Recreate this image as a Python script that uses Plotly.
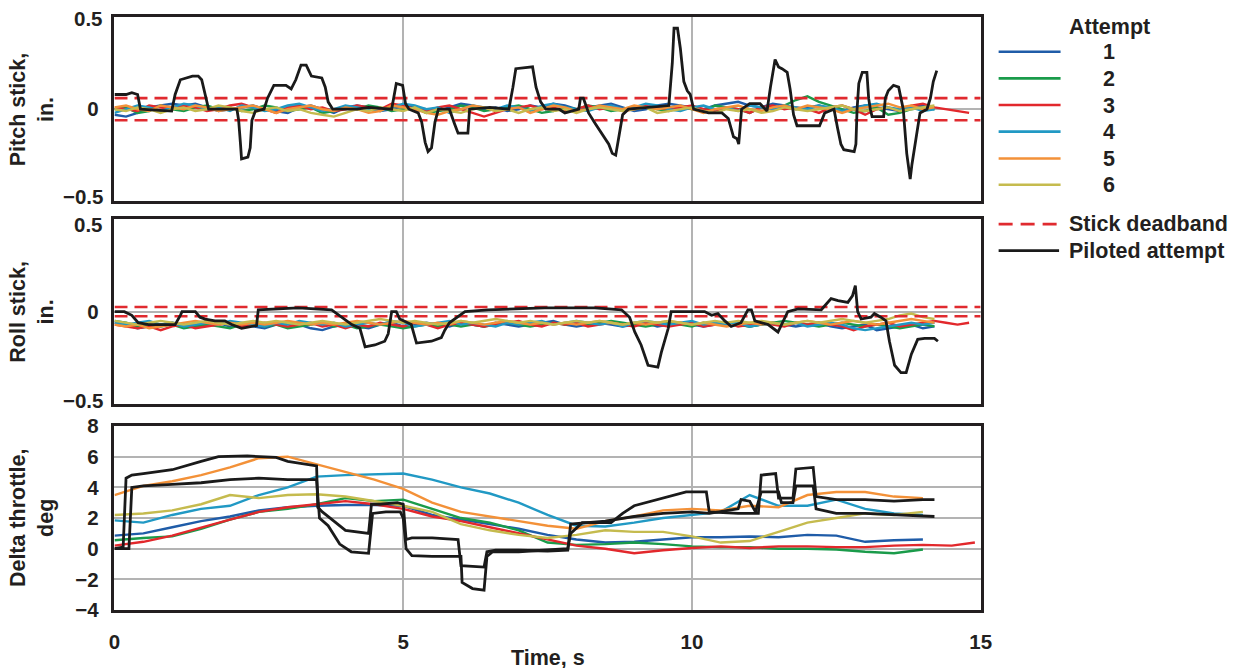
import numpy as np
import plotly.graph_objects as go

# ---------------- data ----------------
DT_STICK = 0.2   # s, sample step of the attempt stick traces
DT_THR = 0.5     # s, sample step of the attempt throttle traces

ATTEMPT_NAMES = ["1", "2", "3", "4", "5", "6"]
ATTEMPT_COLORS = ["#1f5ca8", "#1a9b4a", "#e2282c", "#2199c4", "#f39138", "#c5bb4e"]

DEADBAND_PITCH = 0.06
DEADBAND_ROLL = 0.025

PITCH_1 = [-0.03,-0.04,-0.02,0.01,0.02,0.03,0.02,0.03,0.01,-0.01,0.0,0.01,
           0.02,0.0,-0.01,-0.02,0.01,0.02,0.0,-0.02,0.01,0.02,0.01,-0.01,
           0.0,0.02,0.01,0.0,-0.01,0.01,0.03,0.02,0.0,0.01,-0.01,0.0,
           0.02,0.01,0.03,0.02,0.0,0.01,0.02,0.03,0.01,-0.01,0.0,0.02,
           0.03,0.02,0.01,0.0,0.02,0.03,0.04,0.02,0.01,0.03,0.02,0.0,
           0.01,0.02,0.0,-0.01,0.01,0.02,0.01,0.0,-0.01,0.01,0.02,0.01]
PITCH_2 = [0.0,0.01,-0.02,-0.01,0.02,0.0,-0.01,0.01,0.02,0.0,0.01,-0.01,
           0.0,0.02,0.01,-0.01,0.0,0.01,-0.02,-0.01,0.01,0.0,0.02,0.01,
           -0.01,0.0,0.01,-0.02,-0.01,0.0,0.02,0.01,-0.01,0.0,0.01,0.02,
           0.0,-0.02,-0.01,0.01,0.0,0.02,0.01,-0.01,0.0,0.01,0.02,0.0,
           -0.01,0.01,0.0,-0.01,0.02,0.01,0.0,-0.02,0.01,0.0,0.02,0.05,
           0.07,0.04,0.02,0.0,-0.02,-0.01,0.01,-0.03,-0.02,0.0,0.01,0.0]
PITCH_3 = [0.01,0.0,-0.01,0.02,0.01,0.0,0.02,0.01,-0.01,0.0,0.02,0.03,
           0.01,0.0,-0.02,0.01,0.02,0.0,0.01,-0.01,0.0,0.02,0.01,0.0,
           0.03,0.02,0.0,-0.01,0.01,0.02,0.0,-0.02,-0.04,-0.02,0.0,0.01,
           0.02,0.0,0.01,-0.01,0.0,0.02,0.0,0.01,-0.01,0.0,0.02,0.01,
           0.0,0.01,0.02,0.0,-0.01,0.01,0.0,-0.02,0.01,0.02,0.0,0.01,
           0.0,-0.02,0.01,0.02,0.0,-0.03,0.0,0.01,-0.01,0.02,0.03,0.01,
           0.0,-0.01,-0.02]
PITCH_4 = [-0.02,0.0,0.02,0.01,-0.01,0.01,0.03,0.02,0.0,0.01,-0.01,0.02,
           0.01,-0.01,0.0,0.02,0.03,0.01,-0.01,0.0,0.02,0.01,0.0,-0.01,
           0.01,0.03,0.02,0.0,0.01,-0.02,0.0,0.02,0.01,0.0,0.02,0.01,
           -0.01,0.02,0.03,0.01,0.0,-0.01,0.01,0.02,0.0,0.01,0.03,0.02,
           0.0,-0.01,0.01,0.02,0.0,0.01,-0.01,0.02,0.01,0.0,0.02,0.01,
           0.0,0.02,0.01,-0.01,0.0,0.02,0.03,0.01,0.0,0.01,-0.01,0.0]
PITCH_5 = [0.01,0.02,0.0,-0.01,0.02,0.01,0.0,0.02,0.01,-0.01,0.0,0.01,
           0.02,0.0,-0.02,0.0,0.01,0.02,0.0,-0.01,0.01,0.0,-0.02,-0.01,
           0.02,0.01,0.0,-0.02,-0.03,-0.01,0.0,0.02,0.01,-0.01,0.0,0.01,
           -0.02,0.0,0.02,0.01,-0.01,0.0,0.02,0.01,0.0,0.02,0.01,0.0,
           0.01,0.02,0.0,-0.02,0.0,0.01,0.02,0.0,-0.01,0.01,0.02,0.0,
           0.02,0.01,0.0,-0.02,0.0,0.01,0.02,0.03,0.01,0.02,0.0,0.01]
PITCH_6 = [0.0,-0.01,0.01,0.0,-0.02,0.0,0.01,-0.01,0.0,0.02,0.01,-0.01,
           -0.02,0.0,0.01,-0.01,0.0,-0.02,-0.03,-0.04,-0.02,0.0,-0.01,0.01,
           0.0,-0.01,0.01,-0.02,0.0,-0.01,-0.02,0.0,0.01,-0.01,0.0,-0.02,
           0.0,0.01,-0.01,0.0,-0.02,0.0,0.01,0.0,-0.01,0.0,0.01,-0.02,
           -0.01,0.0,0.01,-0.01,-0.02,0.0,-0.01,0.0,-0.02,-0.01,0.01,0.0,
           -0.01,0.0,0.01,0.02,0.0,-0.01,0.0,0.01,-0.01,0.0,0.01,0.02]

ROLL_1 = [-0.06,-0.07,-0.09,-0.08,-0.07,-0.06,-0.07,-0.08,-0.07,-0.06,-0.08,-0.07,
          -0.08,-0.09,-0.07,-0.06,-0.07,-0.09,-0.1,-0.08,-0.07,-0.08,-0.09,-0.07,
          -0.06,-0.08,-0.07,-0.06,-0.07,-0.08,-0.06,-0.07,-0.08,-0.06,-0.07,-0.08,
          -0.07,-0.06,-0.05,-0.07,-0.08,-0.07,-0.06,-0.07,-0.08,-0.07,-0.06,-0.08,
          -0.07,-0.06,-0.07,-0.08,-0.07,-0.06,-0.07,-0.08,-0.07,-0.06,-0.07,-0.08,
          -0.07,-0.06,-0.08,-0.09,-0.08,-0.07,-0.1,-0.09,-0.08,-0.07,-0.09,-0.08]
ROLL_2 = [-0.05,-0.06,-0.08,-0.07,-0.08,-0.07,-0.09,-0.08,-0.07,-0.08,-0.09,-0.07,
          -0.06,-0.08,-0.07,-0.09,-0.08,-0.07,-0.06,-0.08,-0.07,-0.09,-0.08,-0.07,
          -0.08,-0.09,-0.08,-0.07,-0.08,-0.07,-0.08,-0.07,-0.08,-0.07,-0.06,-0.07,
          -0.08,-0.07,-0.06,-0.07,-0.06,-0.07,-0.06,-0.05,-0.06,-0.07,-0.08,-0.07,
          -0.06,-0.07,-0.08,-0.06,-0.07,-0.06,-0.07,-0.08,-0.07,-0.06,-0.05,-0.06,
          -0.07,-0.08,-0.07,-0.06,-0.07,-0.08,-0.07,-0.08,-0.09,-0.08,-0.07,-0.08]
ROLL_3 = [-0.07,-0.08,-0.09,-0.08,-0.1,-0.08,-0.07,-0.09,-0.08,-0.07,-0.06,-0.08,
          -0.07,-0.06,-0.07,-0.08,-0.07,-0.06,-0.08,-0.07,-0.09,-0.07,-0.08,-0.06,
          -0.07,-0.08,-0.06,-0.07,-0.09,-0.07,-0.06,-0.07,-0.08,-0.07,-0.06,-0.05,
          -0.07,-0.08,-0.06,-0.07,-0.06,-0.08,-0.07,-0.06,-0.07,-0.08,-0.06,-0.07,
          -0.08,-0.07,-0.06,-0.08,-0.07,-0.06,-0.08,-0.07,-0.06,-0.07,-0.08,-0.06,
          -0.07,-0.06,-0.07,-0.08,-0.1,-0.08,-0.07,-0.06,-0.08,-0.07,-0.06,-0.05,
          -0.06,-0.07,-0.06]
ROLL_4 = [-0.06,-0.07,-0.06,-0.05,-0.07,-0.06,-0.08,-0.07,-0.06,-0.07,-0.05,-0.06,
          -0.07,-0.08,-0.06,-0.07,-0.05,-0.06,-0.07,-0.06,-0.08,-0.07,-0.06,-0.07,
          -0.05,-0.06,-0.08,-0.07,-0.06,-0.05,-0.07,-0.06,-0.07,-0.08,-0.06,-0.07,
          -0.06,-0.05,-0.07,-0.06,-0.05,-0.06,-0.07,-0.06,-0.08,-0.06,-0.05,-0.06,
          -0.07,-0.06,-0.05,-0.07,-0.06,-0.07,-0.06,-0.08,-0.07,-0.06,-0.07,-0.06,
          -0.08,-0.07,-0.06,-0.07,-0.09,-0.1,-0.09,-0.08,-0.07,-0.06,-0.07,-0.06]
ROLL_5 = [-0.07,-0.08,-0.07,-0.09,-0.08,-0.07,-0.06,-0.05,-0.06,-0.07,-0.06,-0.07,
          -0.06,-0.07,-0.06,-0.05,-0.06,-0.07,-0.06,-0.07,-0.06,-0.05,-0.06,-0.07,
          -0.06,-0.05,-0.06,-0.07,-0.06,-0.07,-0.05,-0.06,-0.07,-0.06,-0.05,-0.06,
          -0.07,-0.06,-0.07,-0.06,-0.07,-0.06,-0.05,-0.06,-0.07,-0.06,-0.07,-0.06,
          -0.05,-0.06,-0.07,-0.06,-0.07,-0.08,-0.07,-0.06,-0.07,-0.06,-0.07,-0.06,
          -0.05,-0.06,-0.07,-0.06,-0.05,-0.06,-0.07,-0.06,-0.05,-0.04,-0.05,-0.06]
ROLL_6 = [-0.05,-0.06,-0.07,-0.06,-0.05,-0.06,-0.07,-0.06,-0.05,-0.06,-0.07,-0.06,
          -0.05,-0.06,-0.05,-0.06,-0.07,-0.06,-0.05,-0.06,-0.07,-0.06,-0.05,-0.04,
          -0.05,-0.06,-0.05,-0.06,-0.07,-0.06,-0.05,-0.06,-0.05,-0.04,-0.05,-0.06,
          -0.05,-0.06,-0.07,-0.06,-0.05,-0.06,-0.05,-0.06,-0.07,-0.06,-0.05,-0.06,
          -0.05,-0.06,-0.07,-0.06,-0.05,-0.06,-0.05,-0.06,-0.05,-0.06,-0.07,-0.06,
          -0.05,-0.06,-0.05,-0.04,-0.05,-0.06,-0.05,-0.04,-0.02,-0.01,-0.03,-0.04]

THR_1 = [0.85,1.0,1.4,1.8,2.1,2.5,2.7,2.8,2.85,2.85,2.8,2.2,1.9,1.6,1.3,0.9,0.6,0.4,0.45,
         0.6,0.75,0.75,0.8,0.75,0.9,0.85,0.45,0.55,0.6]
THR_2 = [0.55,0.7,0.8,1.3,1.9,2.4,2.6,2.9,3.3,3.1,3.2,2.6,2.0,1.7,1.2,0.4,0.25,0.3,0.4,
         0.3,0.15,0.1,0.1,0.0,0.0,-0.05,-0.2,-0.3,-0.05]
THR_3 = [0.2,0.45,0.85,1.4,1.9,2.4,2.7,2.9,3.1,2.9,2.6,2.1,1.8,1.4,1.0,0.6,0.2,0.0,-0.3,
         -0.1,0.05,0.15,0.05,0.15,0.15,0.1,0.1,0.2,0.25,0.2,0.4]
THR_3_LAST_TIME = 14.9
THR_4 = [1.85,1.7,2.2,2.6,2.8,3.5,4.0,4.7,4.8,4.85,4.9,4.5,4.0,3.6,3.0,2.2,1.5,1.45,1.7,
         2.0,2.2,2.4,3.5,2.8,2.8,3.2,2.6,2.3,2.2]
THR_5 = [3.5,4.1,4.4,4.8,5.3,5.9,6.0,5.5,5.0,4.5,3.9,3.0,2.4,2.1,1.8,1.5,1.3,1.8,2.1,
         2.5,2.6,2.5,2.8,2.7,3.5,3.7,3.7,3.4,3.3]
THR_6 = [2.2,2.3,2.5,2.9,3.5,3.3,3.5,3.55,3.4,3.1,2.8,2.4,1.6,1.2,0.9,0.7,0.9,1.2,1.1,
         1.1,0.8,0.4,0.5,1.1,1.7,2.0,2.3,2.2,2.4]

PILOT_PITCH_T = [0,0.2,0.3,0.4,0.45,0.99,1.05,1.14,1.35,1.45,1.51,1.57,1.63,2.12,2.15,2.18,2.2,
                 2.31,2.35,2.38,2.44,2.59,2.65,2.76,2.97,3.06,3.14,3.23,3.32,3.41,3.59,3.65,
                 3.7,3.78,4.2,4.4,4.8,4.88,4.99,5.04,5.1,5.26,5.32,5.38,5.43,5.49,5.55,5.61,
                 5.8,5.89,5.95,6.12,6.15,6.5,6.83,6.9,6.95,7.24,7.3,7.38,7.47,7.7,7.8,8.04,
                 8.07,8.12,8.21,8.33,8.44,8.56,8.62,8.68,8.74,8.8,8.9,9.3,9.6,9.66,9.69,9.75,
                 9.8,9.86,9.92,9.97,10.03,10.29,10.52,10.63,10.72,10.78,10.81,10.86,11.0,
                 11.18,11.3,11.36,11.44,11.5,11.56,11.65,11.7,11.76,11.82,12.04,12.21,12.3,
                 12.46,12.52,12.58,12.63,12.81,12.84,12.86,12.89,12.95,13.03,13.06,13.09,
                 13.12,13.32,13.35,13.4,13.49,13.58,13.66,13.72,13.78,13.81,13.87,13.95,
                 14.07,14.13,14.18,14.24]
PILOT_PITCH_V = [0.08,0.08,0.09,0.08,0.0,-0.01,0.08,0.16,0.18,0.18,0.16,0.08,0.0,0.0,-0.06,
                 -0.18,-0.27,-0.26,-0.21,-0.06,-0.01,0.0,0.06,0.13,0.13,0.11,0.16,0.24,0.24,
                 0.18,0.17,0.12,0.04,0.0,0.0,0.01,0.0,0.14,0.13,0.03,0.0,-0.02,-0.07,-0.18,
                 -0.23,-0.21,-0.07,0.0,0.0,-0.08,-0.13,-0.13,0.0,0.01,0.0,0.12,0.22,0.23,
                 0.12,0.04,0.0,0.0,-0.02,0.0,0.06,0.06,-0.02,-0.08,-0.13,-0.19,-0.24,-0.25,
                 -0.14,-0.03,0.0,0.01,0.02,0.25,0.44,0.44,0.33,0.15,0.1,0.08,0.0,-0.02,
                 -0.02,-0.05,-0.15,-0.16,-0.19,0.0,0.03,0.03,-0.01,0.12,0.27,0.23,0.22,0.2,
                 0.11,-0.03,-0.09,-0.09,-0.09,-0.02,0.0,-0.1,-0.19,-0.22,-0.23,-0.19,0.0,
                 0.14,0.2,0.2,0.06,0.0,-0.04,-0.04,0.06,0.1,0.13,0.12,0.0,-0.24,-0.38,-0.3,
                 -0.17,-0.02,0.0,0.06,0.15,0.21]

PILOT_ROLL_T = [0,0.17,0.3,0.41,0.59,1.05,1.14,1.17,1.4,1.48,1.57,1.74,1.91,2.03,2.2,2.37,
                2.46,2.49,3.18,3.76,3.99,4.11,4.25,4.31,4.34,4.51,4.68,4.74,4.8,4.88,4.94,
                5.14,5.23,5.49,5.66,5.72,5.8,6.07,6.47,7.45,8.32,8.78,8.92,9.01,9.12,9.24,
                9.41,9.47,9.59,9.64,10.22,10.34,10.45,10.57,10.68,10.85,10.97,11.03,11.09,
                11.32,11.49,11.66,11.84,12.24,12.41,12.53,12.7,12.78,12.83,12.87,12.93,
                13.1,13.16,13.27,13.36,13.42,13.51,13.62,13.71,13.8,13.91,14.03,14.2,14.26]
PILOT_ROLL_V = [0.0,0.0,-0.02,-0.06,-0.07,-0.07,-0.02,0.0,0.0,-0.03,-0.04,-0.05,-0.05,-0.07,
                -0.09,-0.08,-0.075,0.01,0.02,0.01,-0.04,-0.07,-0.09,-0.15,-0.19,-0.18,-0.16,
                -0.12,0.0,0.0,-0.04,-0.07,-0.17,-0.16,-0.14,-0.1,-0.06,0.0,0.01,0.02,0.02,
                0.01,-0.03,-0.11,-0.18,-0.29,-0.3,-0.22,-0.09,0.0,0.0,-0.02,-0.01,-0.05,
                -0.08,-0.06,0.01,0.01,-0.05,-0.07,-0.11,0.0,0.015,0.01,0.07,0.06,0.05,0.085,
                0.14,0.0,-0.04,-0.03,-0.01,-0.03,-0.05,-0.16,-0.29,-0.33,-0.33,-0.23,-0.15,
                -0.145,-0.145,-0.16]

PILOT_THR_A_T = [0,0.15,0.2,0.3,0.5,1.0,1.5,1.8,2.3,2.8,3.0,3.5,3.52,3.6,3.8,4.0,4.4,4.45,
                 4.6,4.9,5.0,5.05,5.15,5.5,5.95,6.0,6.4,6.45,6.6,7.0,7.5,7.85,7.9,8.5,9.0,
                 9.5,10.0,10.3,10.8,10.85,11.0,11.1,11.2,11.5,11.55,11.75,11.8,12.1,12.15,
                 12.5,13.0,13.5,14.0,14.2]
PILOT_THR_A_V = [0,0.1,4.6,4.8,4.9,5.15,5.7,6.0,6.05,5.95,5.7,5.4,2.7,2.4,1.8,1.2,1.0,2.9,
                 2.9,3.0,2.9,0.6,0.7,0.7,0.6,-1.1,-1.2,-0.2,-0.1,-0.1,-0.15,-0.1,1.6,1.8,
                 2.1,2.3,2.4,2.3,2.6,3.2,3.1,2.4,3.7,3.7,3.0,3.0,4.1,4.1,2.6,2.3,2.3,2.2,
                 2.1,2.1]
PILOT_THR_B_T = [0,0.25,0.3,0.5,1.0,1.5,2.0,2.5,3.0,3.5,3.55,3.7,3.9,4.1,4.4,4.47,4.7,4.95,
                 5.0,5.05,5.15,5.5,6.0,6.02,6.2,6.4,6.45,6.55,7.0,7.5,7.85,7.9,8.1,8.6,8.8,
                 9.0,9.5,9.9,10.25,10.3,10.8,11.15,11.2,11.45,11.5,11.75,11.8,12.1,12.15,
                 12.5,13.0,13.5,14.0,14.2]
PILOT_THR_B_V = [0,0,4.0,4.1,4.2,4.3,4.5,4.6,4.5,4.5,2.0,1.5,0.3,-0.2,-0.3,2.3,2.4,2.4,2.0,
                 0.0,-0.45,-0.5,-0.5,-2.2,-2.6,-2.7,-0.5,-0.2,-0.2,-0.1,0.0,1.0,1.7,1.7,2.3,
                 2.8,3.3,3.7,3.7,2.4,2.3,2.3,4.8,4.9,3.3,3.3,5.2,5.3,3.4,3.2,3.2,3.1,3.2,3.2]

X_TICKS = [0, 5, 10, 15]
STICK_TICKS = [-0.5, 0, 0.5]
THR_TICKS = [-4, -2, 0, 2, 4, 6, 8]

# ---------------- styling ----------------
# The photographed page appears slightly scaled relative to CSS pixels and the html body
# keeps its default 8 px margin; positions below are target picture pixels.
SX, SY = 1243 / 1259, 668 / 688
PAGE_MARGIN = 8
W, H = 1243, 672
FONT = "Liberation Sans, Arial, Helvetica, sans-serif"
INK = "#231f20"
BLACK = "#1a1a1a"
DB_RED = "#e02a2f"
GRID = "#b3b3b3"


def px_x(p):
    return (p / SX - PAGE_MARGIN) / W


def px_y(p):
    return 1 - (p / SY - PAGE_MARGIN) / H


X_DOM = [px_x(116.5), px_x(983.5)]
Y_DOM_TOP = [px_y(198), px_y(13)]
Y_DOM_MID = [px_y(402), px_y(216)]
Y_DOM_BOT = [px_y(609), px_y(424)]

fig = go.Figure()

pitch_sets = [PITCH_1, PITCH_2, PITCH_3, PITCH_4, PITCH_5, PITCH_6]
roll_sets = [ROLL_1, ROLL_2, ROLL_3, ROLL_4, ROLL_5, ROLL_6]
thr_sets = [THR_1, THR_2, THR_3, THR_4, THR_5, THR_6]


def stick_time(vals):
    return np.round(np.arange(len(vals)) * DT_STICK, 2)


def thr_time(i, vals):
    t = list(np.round(np.arange(len(vals)) * DT_THR, 2))
    if i == 2:
        t = t[:-1] + [THR_3_LAST_TIME]
    return t


LW_ATT = 2.4
LW_PIL = 2.8

for i in range(6):
    fig.add_trace(go.Scatter(x=stick_time(pitch_sets[i]), y=pitch_sets[i], mode="lines",
                             line=dict(color=ATTEMPT_COLORS[i], width=LW_ATT),
                             xaxis="x", yaxis="y", showlegend=False, hoverinfo="skip"))
    fig.add_trace(go.Scatter(x=stick_time(roll_sets[i]), y=roll_sets[i], mode="lines",
                             line=dict(color=ATTEMPT_COLORS[i], width=LW_ATT),
                             xaxis="x2", yaxis="y2", showlegend=False, hoverinfo="skip"))
    fig.add_trace(go.Scatter(x=thr_time(i, thr_sets[i]), y=thr_sets[i], mode="lines",
                             line=dict(color=ATTEMPT_COLORS[i], width=LW_ATT),
                             xaxis="x3", yaxis="y3", showlegend=False, hoverinfo="skip"))

for ax, db in (("", DEADBAND_PITCH), ("2", DEADBAND_ROLL)):
    for s in (1, -1):
        fig.add_trace(go.Scatter(x=[X_TICKS[0], X_TICKS[-1]], y=[s * db, s * db], mode="lines",
                                 line=dict(color=DB_RED, width=2.6, dash="13px,7px"),
                                 xaxis="x" + ax, yaxis="y" + ax, showlegend=False,
                                 hoverinfo="skip"))

fig.add_trace(go.Scatter(x=PILOT_PITCH_T, y=PILOT_PITCH_V, mode="lines",
                         line=dict(color=BLACK, width=LW_PIL), xaxis="x", yaxis="y",
                         showlegend=False))
fig.add_trace(go.Scatter(x=PILOT_ROLL_T, y=PILOT_ROLL_V, mode="lines",
                         line=dict(color=BLACK, width=LW_PIL), xaxis="x2", yaxis="y2",
                         showlegend=False))
fig.add_trace(go.Scatter(x=PILOT_THR_A_T, y=PILOT_THR_A_V, mode="lines",
                         line=dict(color=BLACK, width=LW_PIL), xaxis="x3", yaxis="y3",
                         showlegend=False))
fig.add_trace(go.Scatter(x=PILOT_THR_B_T, y=PILOT_THR_B_V, mode="lines",
                         line=dict(color=BLACK, width=LW_PIL), xaxis="x3", yaxis="y3",
                         showlegend=False))

tickfont = dict(family=FONT, size=20.5, color=INK, weight="bold")
frame = dict(showline=True, mirror=True, linecolor=INK, linewidth=2.5, zeroline=False,
             showgrid=True, gridcolor=GRID, gridwidth=1.5, ticks="")

xcommon = dict(domain=X_DOM, range=[X_TICKS[0], X_TICKS[-1]], tickvals=X_TICKS, **frame)
fig.update_layout(
    xaxis=dict(anchor="y", showticklabels=False, **xcommon),
    xaxis2=dict(anchor="y2", showticklabels=False, **xcommon),
    xaxis3=dict(anchor="y3", showticklabels=True, tickfont=tickfont,
                ticklabelstandoff=12, **xcommon),
    yaxis=dict(domain=Y_DOM_TOP, anchor="x", range=[-0.5, 0.5], tickvals=STICK_TICKS,
               ticktext=["", "0", ""], tickfont=tickfont, ticklabelstandoff=9, **frame),
    yaxis2=dict(domain=Y_DOM_MID, anchor="x2", range=[-0.5, 0.5], tickvals=STICK_TICKS,
                ticktext=["", "0", ""], tickfont=tickfont, ticklabelstandoff=9, **frame),
    yaxis3=dict(domain=Y_DOM_BOT, anchor="x3", range=[THR_TICKS[0], THR_TICKS[-1]],
                tickvals=THR_TICKS, tickfont=tickfont, ticklabelstandoff=9, **frame),
    width=W, height=H, margin=dict(l=0, r=0, t=0, b=0),
    paper_bgcolor="white", plot_bgcolor="white", showlegend=False,
)

ann = []
for yref, shifts in (("y", (5, -1.5)), ("y2", (3.5, -5))):
    for val, sh in zip((-0.5, 0.5), shifts):
        ann.append(dict(text=("\u22120.5" if val < 0 else "0.5"), x=px_x(106.5), y=val,
                        xref="paper", yref=yref, xanchor="right", yanchor="middle",
                        yshift=sh, showarrow=False, font=tickfont))

tfont = dict(family=FONT, size=21.5, color=INK, weight="bold")
for text, yc in (("Pitch stick,<br>in.", 105.5), ("Roll stick,<br>in.", 309),
                 ("Delta throttle,<br>deg", 516.5)):
    ann.append(dict(text=text, x=px_x(34), y=px_y(yc), xref="paper", yref="paper",
                    xanchor="center", yanchor="middle", textangle=-90, showarrow=False,
                    font=tfont, align="center"))
ann.append(dict(text="Time, s", x=px_x(550), y=px_y(657), xref="paper", yref="paper",
                xanchor="center", yanchor="middle", showarrow=False, font=tfont))

lfont = dict(family=FONT, size=21.5, color=INK, weight="bold")
shapes = []
ann.append(dict(text="Attempt", x=px_x(1070), y=px_y(22.5), xref="paper", yref="paper",
                xanchor="left", yanchor="middle", showarrow=False, font=lfont))
LEG_Y = [47.7, 74.5, 101.3, 128, 155, 181.5]
for i in range(6):
    shapes.append(dict(type="line", xref="paper", yref="paper", x0=px_x(1001.5),
                       x1=px_x(1063.5), y0=px_y(LEG_Y[i]), y1=px_y(LEG_Y[i]),
                       line=dict(color=ATTEMPT_COLORS[i], width=2.6)))
    ann.append(dict(text=ATTEMPT_NAMES[i], x=px_x(1112), y=px_y(LEG_Y[i] + 0.5),
                    xref="paper", yref="paper", xanchor="center", yanchor="middle",
                    showarrow=False, font=lfont))
shapes.append(dict(type="line", xref="paper", yref="paper", x0=px_x(1001.5), x1=px_x(1062),
                   y0=px_y(221), y1=px_y(221),
                   line=dict(color=DB_RED, width=2.6, dash="14px,8px")))
ann.append(dict(text="Stick deadband", x=px_x(1070), y=px_y(221), xref="paper",
                yref="paper", xanchor="left", yanchor="middle", showarrow=False, font=lfont))
shapes.append(dict(type="line", xref="paper", yref="paper", x0=px_x(1001.5), x1=px_x(1062),
                   y0=px_y(247.7), y1=px_y(247.7), line=dict(color=BLACK, width=2.6)))
ann.append(dict(text="Piloted attempt", x=px_x(1070), y=px_y(247.7), xref="paper",
                yref="paper", xanchor="left", yanchor="middle", showarrow=False, font=lfont))

fig.update_layout(annotations=ann, shapes=shapes)
fig.write_html("out.html")
